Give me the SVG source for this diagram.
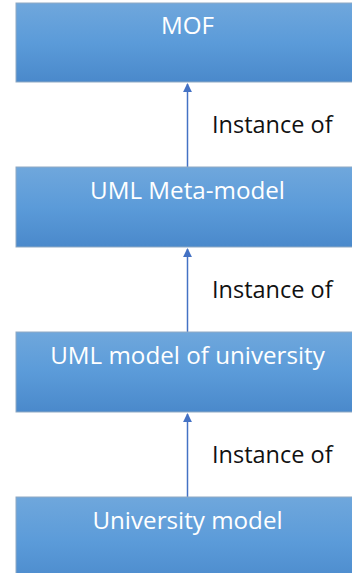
<svg xmlns="http://www.w3.org/2000/svg" width="352" height="573" viewBox="0 0 352 573">
  <style>
    .box { fill: url(#boxFill); stroke: #8fa9c3; stroke-width: 1; }
    .boxLabel { font-family: "Open Sans", "Noto Sans", sans-serif; font-size: 24.2px; fill: #ffffff; text-anchor: middle; }
    .edge { stroke: #4472c4; stroke-width: 1.5; fill: none; marker-end: url(#arrowHead); }
    .edgeLabel { font-family: "Open Sans", "Noto Sans", sans-serif; font-size: 23.5px; fill: #111111; }
  </style>
  <defs>
    <linearGradient id="boxFill" x1="0" y1="0" x2="0" y2="1">
      <stop offset="0" stop-color="#6fa7dc"/>
      <stop offset="0.5" stop-color="#5b9bd9"/>
      <stop offset="1" stop-color="#4a89cb"/>
    </linearGradient>
    <marker id="arrowHead" viewBox="0 0 10 10" refX="9" refY="5" markerWidth="6" markerHeight="6" markerUnits="strokeWidth" orient="auto">
      <path d="M0,0 L10,5 L0,10 z" fill="#4472c4"/>
    </marker>
  </defs>

  <!-- connectors: each lower layer is an instance of the layer above -->
  <g id="connectors">
    <line class="edge" x1="187.5" y1="167" x2="187.5" y2="84"/>
    <text class="edgeLabel" x="212" y="133">Instance of</text>
    <line class="edge" x1="187.5" y1="332" x2="187.5" y2="249"/>
    <text class="edgeLabel" x="212" y="298">Instance of</text>
    <line class="edge" x1="187.5" y1="497" x2="187.5" y2="414"/>
    <text class="edgeLabel" x="212" y="463">Instance of</text>
  </g>

  <g id="mof">
    <rect class="box" x="16" y="3" width="345" height="79"/>
    <text class="boxLabel" x="187.5" y="34">MOF</text>
  </g>

  <g id="uml-meta-model">
    <rect class="box" x="16" y="167" width="345" height="80"/>
    <text class="boxLabel" x="187.5" y="199">UML Meta-model</text>
  </g>

  <g id="uml-model-of-university">
    <rect class="box" x="16" y="332" width="345" height="80"/>
    <text class="boxLabel" x="187.5" y="364">UML model of university</text>
  </g>

  <g id="university-model">
    <rect class="box" x="16" y="497" width="345" height="90"/>
    <text class="boxLabel" x="187.5" y="529">University model</text>
  </g>
</svg>
